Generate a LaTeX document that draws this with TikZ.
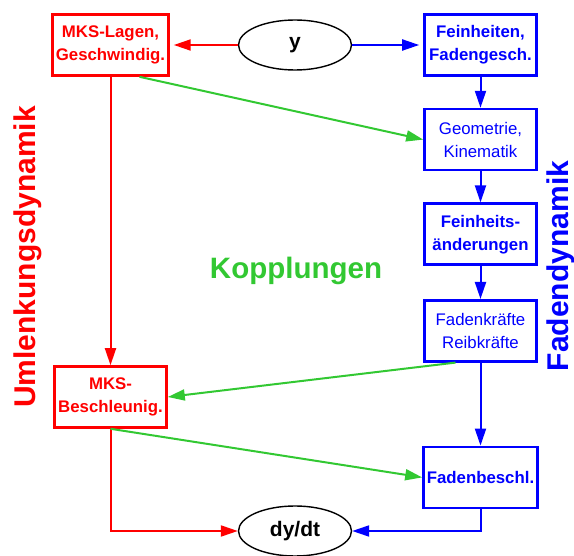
\documentclass[tikz,border=0pt]{standalone}
\usepackage{fontspec}
\setmainfont{Liberation Sans}
\usepackage{tikz}
\usetikzlibrary{positioning, arrows.meta, shapes.geometric}
\definecolor{kopgreen}{RGB}{50,200,50}

\begin{document}
\begin{tikzpicture}[x=1pt, y=-1pt, node distance = 31pt, >={Triangle[length=17pt,width=11pt]}, line width=2pt]
        \tikzset{box/.style={draw, line width=2.6pt, minimum width=112pt, minimum height=61pt, align=center},
                 boxfont/.style={font=\fontsize{16.8}{23}\selectfont},
                 boldfont/.style={font=\fontsize{16.8}{23}\selectfont\bfseries},
                 oval/.style={draw, ellipse, line width=1.4pt, minimum width=113pt, minimum height=50pt, font=\fontsize{21}{24}\selectfont\bfseries},
                 side/.style={rotate=90, inner sep=0pt, font=\fontsize{30}{32}\selectfont\bfseries}}
        \useasboundingbox (0,0) rectangle (574,556);

        \node[oval] (yy) at (295,45) {y};
        \node[oval] (dydt) at (295,531) {dy/dt};

        \node[box,boldfont,color=red] (mksl) at (110.5,45) {MKS-Lagen,\\Geschwindig.};
        \node[box,boldfont,color=red] (mksb) at (110.5,397) {MKS-\\Beschleunig.};

        \node[box,boldfont,color=blue] (fein) at (480.5,45) {Feinheiten,\\Fadengesch.};
        \node[box,boxfont,color=blue] (geo) [below=of fein] {Geometrie,\\Kinematik};
        \node[box,boldfont,color=blue] (aend) [below=of geo] {Feinheits-\\änderungen};
        \node[box,boxfont,color=blue] (kraft) [below=33pt of aend] {Fadenkräfte\\Reibkräfte};
        \node[box,boldfont,color=blue] (fbes) [below=83pt of kraft] {Fadenbeschl.};

        \node[side,color=red] (umlenk) at (28,257) {Umlenkungsdynamik};
        \node[side,color=blue] (faden) at (561,266) {Fadendynamik};
        \node[font=\fontsize{29.5}{31}\selectfont\bfseries,color=kopgreen] (kopp) at (296,271) {Kopplungen};

        \draw[->,red,shorten >=4pt] (yy) -- (mksl);
        \draw[->,red] (mksl) -- (mksb);
        \draw[->,red] (mksb.south) |- (dydt.west);

        \draw[->,blue,shorten >=4pt] (yy) -- (fein);
        \draw[->,blue] (fein) -- (geo);
        \draw[->,blue] (geo) -- (aend);
        \draw[->,blue] (aend) -- (kraft);
        \draw[->,blue] (kraft) -- (fbes);
        \draw[->,blue] (fbes.south) |- (dydt.east);

        \draw[->,kopgreen] ([xshift=29pt]mksl.south) -- (geo.west);
        \draw[->,kopgreen] ([xshift=-25pt]kraft.south) -- (mksb.east);
        \draw[->,kopgreen] (mksb.south) -- (fbes.west);
    \end{tikzpicture}
\end{document}
